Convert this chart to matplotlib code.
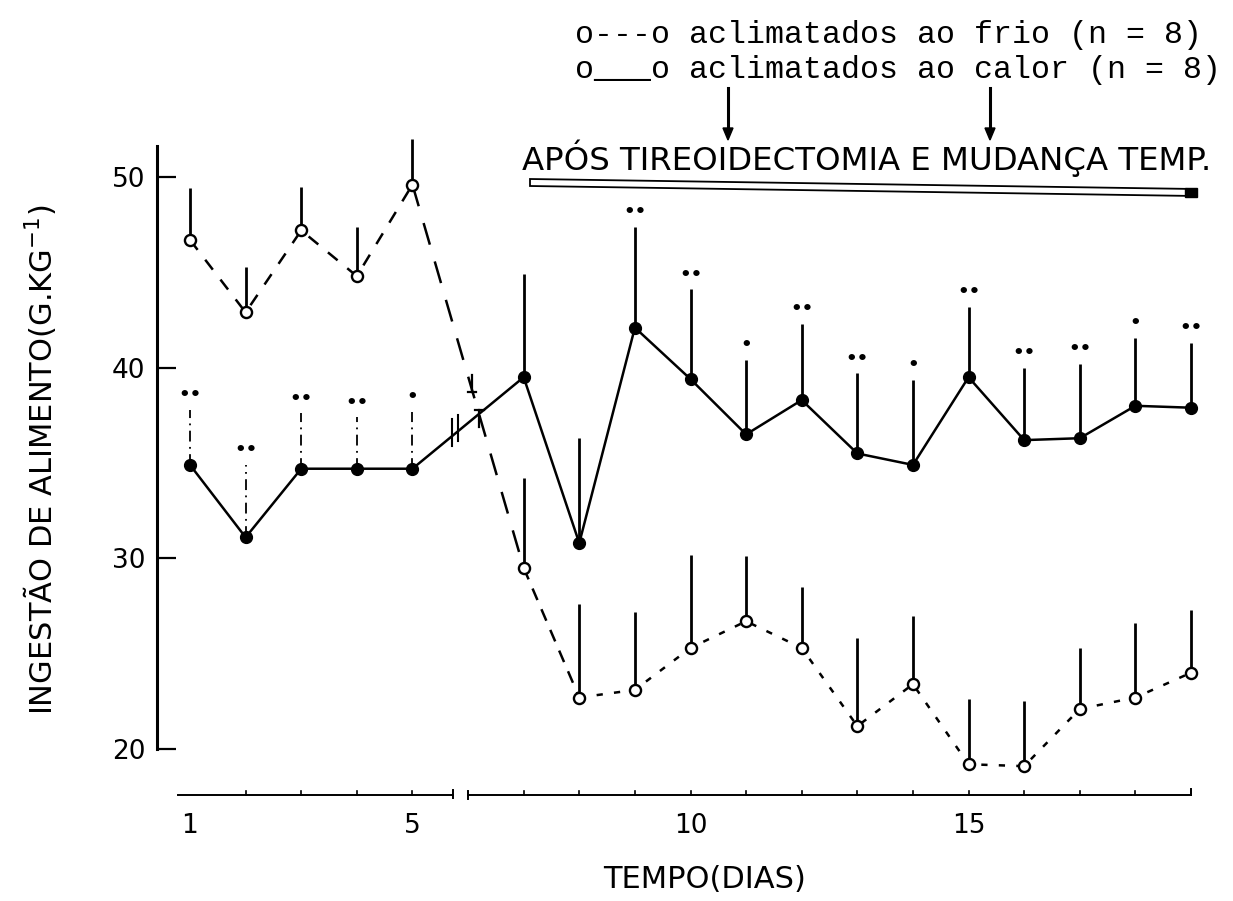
import numpy as np
import matplotlib.pyplot as plt
from matplotlib.patches import Polygon, Rectangle

# days with data (day 6 is the break)
dias_a = [1, 2, 3, 4, 5]
dias_b = [7, 8, 9, 10, 11, 12, 13, 14, 15, 16, 17, 18, 19]

# aclimatados ao frio (open circles)
frio_a = [46.7, 42.9, 47.2, 44.8, 49.6]
frio_a_top = [49.4, 45.3, 49.5, 47.4, 52.0]
frio_b = [29.5, 22.7, 23.1, 25.3, 26.7, 25.3, 21.2, 23.4, 19.2, 19.1, 22.1, 22.7, 24.0]
frio_b_top = [34.2, 27.6, 27.2, 30.2, 30.1, 28.5, 25.8, 27.0, 22.6, 22.5, 25.3, 26.6, 27.3]

# aclimatados ao calor (filled circles)
calor_a = [34.9, 31.1, 34.7, 34.7, 34.7]
calor_a_top = [37.8, 34.9, 37.6, 37.4, 37.7]
calor_b = [39.5, 30.8, 42.1, 39.4, 36.5, 38.3, 35.5, 34.9, 39.5, 36.2, 36.3, 38.0, 37.9]
calor_b_top = [44.9, 36.3, 47.4, 44.1, 40.4, 42.3, 39.7, 39.35, 43.2, 40.0, 40.2, 41.55, 41.3]

sig_a = ['••', '••', '••', '••', '•']
sig_b = ['', '', '••', '••', '•', '••', '••', '•', '••', '••', '••', '•', '••']

W, H = 1233, 901
fig = plt.figure(figsize=(W / 100, H / 100), dpi=100)

def fx(px):
    return px / W

def fy(py):
    return 1 - py / H

# axes placed so that day 1 -> 190 px, day 19 -> 1191 px, 20 -> 749 px, 50 -> 177 px
xl = (0.4, 19.3)
yl = (17.3, 54.0)
pxd = (1191 - 190) / 18
pyv = (749 - 177) / 30
left = 190 + (xl[0] - 1) * pxd
right = 190 + (xl[1] - 1) * pxd
bottom = 749 + (20 - yl[0]) * pyv
top = 749 - (yl[1] - 20) * pyv
ax = fig.add_axes([fx(left), fy(bottom), fx(right - left), (bottom - top) / H])
ax.set_xlim(*xl)
ax.set_ylim(*yl)

narrow = ['Liberation Sans Narrow', 'DejaVu Sans']

for s in ['top', 'right', 'bottom']:
    ax.spines[s].set_visible(False)
ax.spines['left'].set_bounds(20, 51.6)
ax.spines['left'].set_linewidth(2.2)
ax.set_yticks([20, 30, 40, 50])
ax.tick_params(axis='y', direction='in', length=14, width=1.6, labelsize=19, pad=8)
for t in ax.get_yticklabels():
    t.set_family(narrow)
ax.set_xticks([1, 5, 10, 15])
ax.tick_params(axis='x', length=0, labelsize=19, pad=9)
for t in ax.get_xticklabels():
    t.set_family(narrow)

# broken x axis drawn by hand
xa = 17.6
ax.plot([0.78, 5.73], [xa, xa], color='black', lw=1.4, clip_on=False)
ax.plot([6.0, 19.0], [xa, xa], color='black', lw=1.4, clip_on=False)
ax.plot([5.73, 5.73], [xa - 0.15, xa + 0.25], color='black', lw=1.4, clip_on=False)
ax.plot([6.0, 6.0], [xa - 0.2, xa + 0.2], color='black', lw=1.4, clip_on=False)
ax.plot([19.0, 19.0], [xa, xa + 0.3], color='black', lw=1.4, clip_on=False)
for d in dias_a[1:] + dias_b:
    ax.plot([d, d], [xa, xa + 0.22], color='black', lw=1.2, clip_on=False)

# error bars (upward only)
ax.vlines(dias_a, frio_a, frio_a_top, color='black', lw=2.0)
ax.vlines(dias_b, frio_b, frio_b_top, color='black', lw=2.0)
ax.vlines(dias_a, calor_a, calor_a_top, color='black', lw=1.3, linestyles=(0, (6, 3, 1, 3)))
ax.vlines(dias_b, calor_b, calor_b_top, color='black', lw=2.0)

# lines
ax.plot(dias_a, frio_a, color='black', lw=1.8, dashes=(5, 5))
ax.plot([5, 7], [frio_a[-1], frio_b[0]], color='black', lw=1.8, dashes=(9, 7))
ax.plot(dias_b[:2], frio_b[:2], color='black', lw=1.8, dashes=(5, 4))
ax.plot(dias_b[1:], frio_b[1:], color='black', lw=1.8, dashes=(2.5, 4.5))
ax.plot(dias_a + dias_b, calor_a + calor_b, color='black', lw=1.8)

# break marks
for d in (5.72, 5.82):
    ax.plot([d, d], [35.9 + (d - 5.72) * 2.4, 37.3 + (d - 5.72) * 2.4], color='black', lw=1.5)
ax.plot([6.0, 6.14], [38.7, 38.7], color='black', lw=1.6)
ax.plot([6.07, 6.07], [38.7, 39.6], color='black', lw=1.6)
ax.plot([6.12, 6.28], [37.8, 37.8], color='black', lw=1.6)
ax.plot([6.2, 6.2], [37.8, 36.9], color='black', lw=1.6)

# markers
ax.plot(dias_a + dias_b, calor_a + calor_b, 'o', ms=8.5, color='black', ls='none', zorder=4)
ax.plot(dias_a + dias_b, frio_a + frio_b, 'o', ms=8, mfc='white', mec='black', mew=1.7,
        ls='none', zorder=4)

# significance dots
for d, t, s in zip(dias_a + dias_b, calor_a_top + calor_b_top, sig_a + sig_b):
    if s:
        ax.text(d, t + 0.3, s, ha='center', va='bottom', fontsize=13, fontweight='bold')

# axis titles
fig.text(fx(40), fy(460), 'INGESTÃO DE ALIMENTO(G.KG$^{-1}$)', rotation=90, ha='center',
         va='center', fontsize=22, family=narrow)
fig.text(fx(705), fy(880), 'TEMPO(DIAS)', ha='center', va='center', fontsize=22, family=narrow)

# legend and annotation at the top
fig.text(fx(575), fy(35), 'o---o aclimatados ao frio (n = 8)', ha='left', va='center',
         fontsize=22.8, family='Liberation Mono')
fig.text(fx(575), fy(70), 'o___o aclimatados ao calor (n = 8)', ha='left', va='center',
         fontsize=22.8, family='Liberation Mono')
for xa_ in (728, 990):
    fig.add_artist(plt.Line2D([fx(xa_), fx(xa_)], [fy(88), fy(130)], color='black', lw=2.2))
    fig.add_artist(Polygon([[fx(xa_ - 5), fy(128)], [fx(xa_ + 5), fy(128)], [fx(xa_), fy(140)]],
                           closed=True, color='black', transform=fig.transFigure))
fig.text(fx(522), fy(158), 'APÓS TIREOIDECTOMIA E MUDANÇA TEMP.', ha='left', va='center',
         fontsize=23.3, family=narrow)
fig.add_artist(Polygon([[fx(530), fy(179)], [fx(1195), fy(189)], [fx(1195), fy(196)], [fx(530), fy(186)]],
                       closed=True, fc='white', ec='black', lw=1.3, transform=fig.transFigure))
fig.add_artist(Rectangle((fx(1185), fy(197)), fx(12), 9 / H, color='black', transform=fig.transFigure))

fig.savefig('out.png', dpi=100)
